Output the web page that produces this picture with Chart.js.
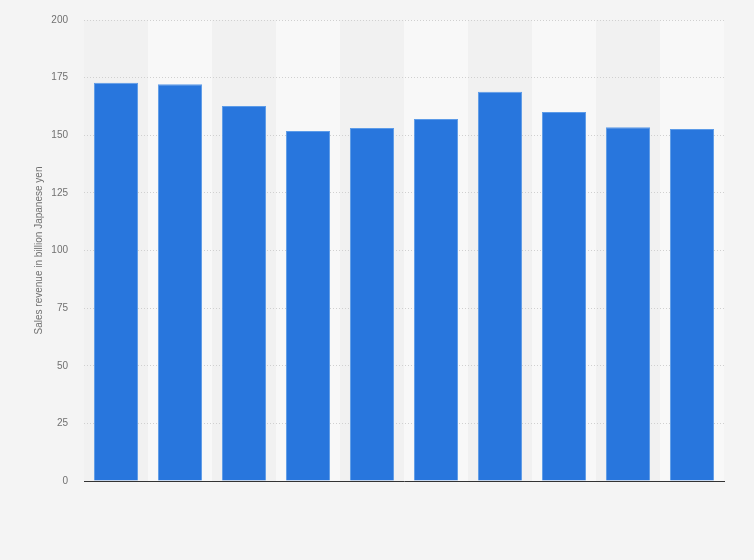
<!DOCTYPE html>
<html>
<head>
<meta charset="utf-8">
<script src="https://cdn.jsdelivr.net/npm/chart.js@4"></script>
<style>
  html, body { margin: 0; padding: 0; background: #f4f4f4; }
  #wrap { width: 754px; height: 560px; }
</style>
</head>
<body>
<div id="wrap"><canvas id="c"></canvas></div>
<script>
// values (billion yen), year labels are not shown
const categories = ['1', '2', '3', '4', '5', '6', '7', '8', '9', '10'];
const revenue = [172.8, 172.1, 162.7, 151.8, 153.1, 157.1, 168.9, 160.1, 153.5, 152.7];
const yTicks = [0, 25, 50, 75, 100, 125, 150, 175, 200];

/* alternating column bands behind the bars */
const bands = {
  id: 'bands',
  beforeDraw(chart) {
    const { ctx, chartArea: a, scales: { x } } = chart;
    const w = x.getPixelForValue(1) - x.getPixelForValue(0);
    ctx.save();
    categories.forEach((c, i) => {
      const cx = x.getPixelForValue(i);
      ctx.fillStyle = i % 2 ? '#f8f8f8' : '#f1f1f1';
      ctx.fillRect(cx - w / 2, a.top, w, a.bottom - a.top);
    });
    ctx.restore();
  },
};

new Chart(document.getElementById('c').getContext('2d'), {
  type: 'bar',
  data: {
    labels: categories,
    datasets: [{
      data: revenue,
      backgroundColor: '#2876dd',
      borderColor: '#5c9be8',
      borderWidth: 1,
      barPercentage: 0.69,
      categoryPercentage: 1,
    }],
  },
  options: {
    responsive: true, maintainAspectRatio: false,
    animation: false,
    layout: { padding: { top: 20, right: 30, bottom: 79, left: 0 } },
    plugins: { legend: { display: false }, tooltip: { enabled: false } },
    scales: {
      x: {
        ticks: { display: false },
        grid: { display: false, drawTicks: false },
        border: { color: '#333333', width: 1 },
      },
      y: {
        min: 0, max: 200,
        afterBuildTicks: s => { s.ticks = yTicks.map(v => ({ value: v })); },
        afterFit: s => { s.width = 84; s.paddingTop = 0; },
        ticks: { color: '#707070', padding: 16, font: { family: 'Arial, "Liberation Sans"', size: 10 } },
        grid: { color: '#d0d0d0', drawTicks: false, lineWidth: 1 },
        border: { display: false, dash: [1, 2] },
        title: {
          display: true, text: 'Sales revenue in billion Japanese yen',
          color: '#707070', padding: { top: 33, bottom: 0 },
          font: { family: 'Arial, "Liberation Sans"', size: 10 },
        },
      },
    },
  },
  plugins: [bands],
});
</script>
</body>
</html>
